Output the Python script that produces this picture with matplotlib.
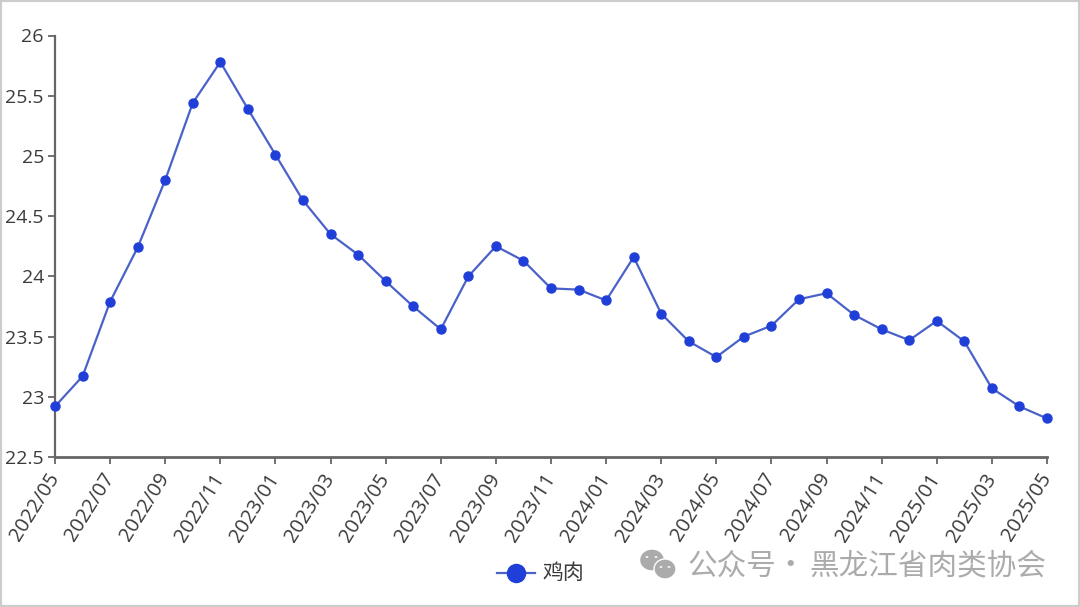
import matplotlib
matplotlib.use('Agg')
import matplotlib.pyplot as plt
import matplotlib.patches as patches

plt.rcParams['font.family'] = ['Noto Sans CJK SC', 'DejaVu Sans']

months = ['2022/05', '2022/06', '2022/07', '2022/08', '2022/09', '2022/10', '2022/11', '2022/12',
          '2023/01', '2023/02', '2023/03', '2023/04', '2023/05', '2023/06', '2023/07', '2023/08',
          '2023/09', '2023/10', '2023/11', '2023/12', '2024/01', '2024/02', '2024/03', '2024/04',
          '2024/05', '2024/06', '2024/07', '2024/08', '2024/09', '2024/10', '2024/11', '2024/12',
          '2025/01', '2025/02', '2025/03', '2025/04', '2025/05']
prices = [22.92, 23.17, 23.79, 24.24, 24.80, 25.44, 25.78, 25.39,
          25.01, 24.63, 24.35, 24.18, 23.96, 23.75, 23.56, 24.00,
          24.25, 24.13, 23.90, 23.89, 23.80, 24.16, 23.69, 23.46,
          23.33, 23.50, 23.59, 23.81, 23.86, 23.68, 23.56, 23.47,
          23.63, 23.46, 23.07, 22.92, 22.82]
yticks = [22.5, 23, 23.5, 24, 24.5, 25, 25.5, 26]
ylabels = ['22.5', '23', '23.5', '24', '24.5', '25', '25.5', '26']

blue = '#1f3fd8'
line_col = '#4a62c8'
axis_col = '#666666'
text_col = '#3a3a3a'
mark_col = '#ababab'

fig = plt.figure(figsize=(10.8, 6.07), dpi=100)
fig.patches.append(patches.Rectangle((0, 0), 1, 1, transform=fig.transFigure, fill=False,
                                     ec='#cccccc', lw=3))
ax = fig.add_axes([55 / 1080, 1 - 457 / 607, (1047 - 55) / 1080, (457 - 35.5) / 607])

x = list(range(len(months)))
ax.plot(x, prices, color=line_col, lw=1.6, marker='o', ms=6.5, mfc=blue, mec=blue, clip_on=False, zorder=3)
ax.set_xlim(0, len(months) - 1)
ax.set_ylim(22.5, 26)

ax.spines['top'].set_visible(False)
ax.spines['right'].set_visible(False)
ax.spines['left'].set_color(axis_col)
ax.spines['left'].set_linewidth(1.6)
ax.spines['bottom'].set_color(axis_col)
ax.spines['bottom'].set_linewidth(2)

ax.set_yticks(yticks)
ax.set_yticklabels(ylabels, fontsize=14, color=text_col, family='Open Sans')
ax.set_xticks(x[::2])
ax.set_xticklabels(months[::2], fontsize=14.5, color=text_col, family='Open Sans', rotation=58, ha='right',
                   va='center', rotation_mode='anchor')
ax.tick_params(axis='both', length=5, width=1.3, color=axis_col, pad=3)
ax.tick_params(axis='x', pad=8)

# legend drawn by hand to match the size of the symbol
leg_line = plt.Line2D([497 / 1080, 535 / 1080], [1 - 573 / 607] * 2, transform=fig.transFigure,
                      color=line_col, lw=1.6)
leg_dot = plt.Line2D([516 / 1080], [1 - 573 / 607], transform=fig.transFigure, marker='o', ms=13,
                     mfc=blue, mec=blue)
fig.add_artist(leg_line)
fig.add_artist(leg_dot)
fig.text(542 / 1080, 1 - 573 / 607, '鸡肉', fontsize=15, color=text_col, va='center')

# watermark
fig.text(687 / 1080, 1 - 566 / 607, '公众号', fontsize=21.3, color=mark_col, va='center')
fig.text(790 / 1080, 1 - 566 / 607, '·', fontsize=21.3, color=mark_col, va='center', ha='center')
fig.text(809 / 1080, 1 - 566 / 607, '黑龙江省肉类协会', fontsize=21.3, color=mark_col, va='center')
for cx, cy, rx, ry in [(652, 560, 12.5, 11), (665, 569, 11, 10)]:
    fig.add_artist(patches.Ellipse((cx / 1080, 1 - cy / 607), 2 * rx / 1080, 2 * ry / 607,
                                   transform=fig.transFigure, fc=mark_col, ec='white', lw=1))
for ex, ey in [(647, 557), (656, 557), (661, 567), (669, 567)]:
    fig.add_artist(patches.Circle((ex / 1080, 1 - ey / 607), 1.5 / 1080,
                                  transform=fig.transFigure, fc='white', ec='none'))

fig.savefig('out.png', dpi=100)
